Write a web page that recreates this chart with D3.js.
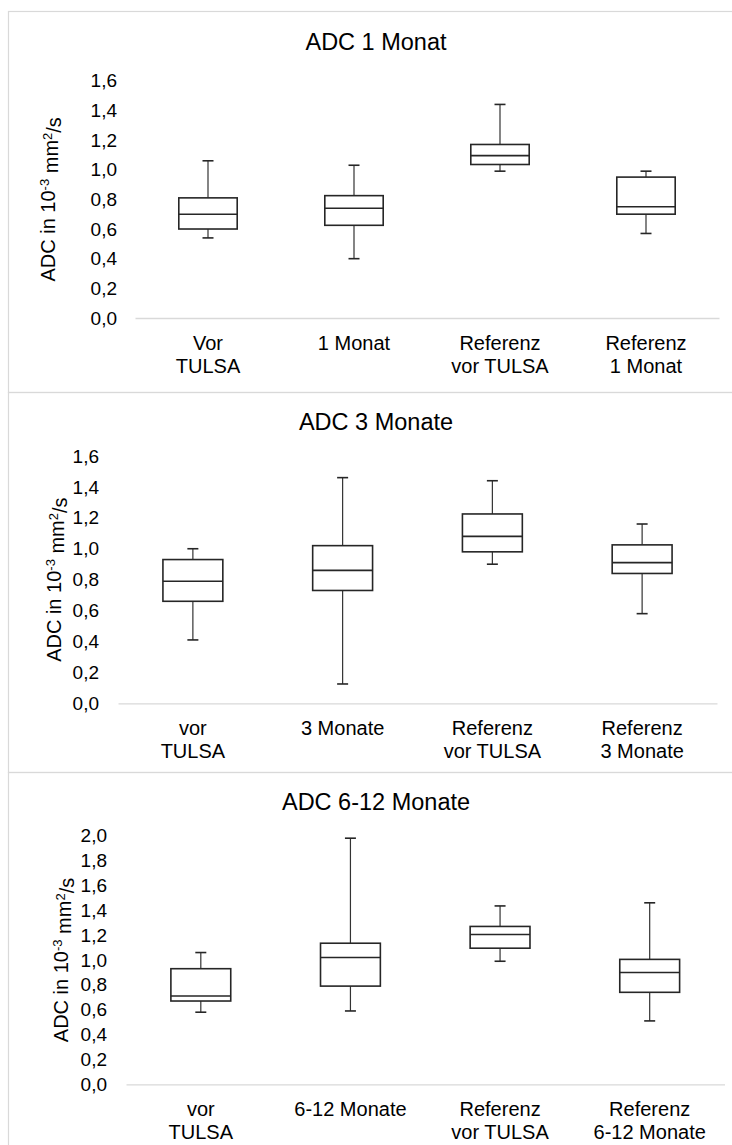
<!DOCTYPE html>
<html>
<head>
<meta charset="utf-8">
<script src="https://cdn.jsdelivr.net/npm/d3@7"></script>
<style>
  html, body { margin: 0; padding: 0; background: #ffffff; }
  svg { display: block; }
  text { font-family: "Liberation Sans", Arial, sans-serif; fill: #000; }
</style>
</head>
<body>
<svg id="chart" width="732" height="1145"></svg>
<script>
// ---------- data ----------
const titles = ["ADC 1 Monat", "ADC 3 Monate", "ADC 6-12 Monate"];

const categories1 = [["Vor", "TULSA"], ["1 Monat"], ["Referenz", "vor TULSA"], ["Referenz", "1 Monat"]];
const categories2 = [["vor", "TULSA"], ["3 Monate"], ["Referenz", "vor TULSA"], ["Referenz", "3 Monate"]];
const categories3 = [["vor", "TULSA"], ["6-12 Monate"], ["Referenz", "vor TULSA"], ["Referenz", "6-12 Monate"]];

const ticks1 = [0, 0.2, 0.4, 0.6, 0.8, 1.0, 1.2, 1.4, 1.6];
const ticks2 = [0, 0.2, 0.4, 0.6, 0.8, 1.0, 1.2, 1.4, 1.6];
const ticks3 = [0, 0.2, 0.4, 0.6, 0.8, 1.0, 1.2, 1.4, 1.6, 1.8, 2.0];

const min1 = [0.54, 0.40, 0.99, 0.57];
const q1_1 = [0.60, 0.625, 1.035, 0.70];
const med1 = [0.70, 0.74, 1.095, 0.75];
const q3_1 = [0.81, 0.825, 1.17, 0.95];
const max1 = [1.06, 1.03, 1.44, 0.99];

const min2 = [0.41, 0.125, 0.90, 0.58];
const q1_2 = [0.66, 0.73, 0.98, 0.84];
const med2 = [0.79, 0.86, 1.08, 0.91];
const q3_2 = [0.93, 1.02, 1.225, 1.025];
const max2 = [1.00, 1.46, 1.44, 1.16];

const min3 = [0.58, 0.59, 0.99, 0.51];
const q1_3 = [0.67, 0.79, 1.095, 0.74];
const med3 = [0.71, 1.02, 1.205, 0.90];
const q3_3 = [0.93, 1.135, 1.27, 1.005];
const max3 = [1.06, 1.98, 1.435, 1.46];

// ---------- layout ----------
const panels = [
  { title: titles[0], cats: categories1, ticks: ticks1, yMax: 1.6,
    mins: min1, q1s: q1_1, meds: med1, q3s: q3_1, maxs: max1,
    top: 11, bottom: 392, titleY: 42, yTop: 80.7, yZero: 318, xL: 135, xR: 719, labelX: 117, ytitleX: 48 },
  { title: titles[1], cats: categories2, ticks: ticks2, yMax: 1.6,
    mins: min2, q1s: q1_2, meds: med2, q3s: q3_2, maxs: max2,
    top: 392, bottom: 772, titleY: 422, yTop: 456, yZero: 703.3, xL: 118, xR: 717, labelX: 99, ytitleX: 54 },
  { title: titles[2], cats: categories3, ticks: ticks3, yMax: 2.0,
    mins: min3, q1s: q1_3, meds: med3, q3s: q3_3, maxs: max3,
    top: 772, bottom: 1160, titleY: 802, yTop: 835.7, yZero: 1084.3, xL: 126, xR: 724.5, labelX: 107, ytitleX: 61 }
];

const svg = d3.select("#chart");
const fmt = v => d3.format(".1f")(v).replace(".", ",");

panels.forEach(p => {
  const g = svg.append("g");

  // chart border (light gray)
  g.append("rect")
    .attr("x", 8.5).attr("y", p.top + 0.5)
    .attr("width", 760).attr("height", p.bottom - p.top)
    .attr("fill", "none").attr("stroke", "#d9d9d9").attr("stroke-width", 1.2);

  const x = d3.scaleBand().domain(d3.range(p.cats.length)).range([p.xL, p.xR]).paddingInner(0).paddingOuter(0);
  const y = d3.scaleLinear().domain([0, p.yMax]).range([p.yZero, p.yTop]);

  // title
  g.append("text")
    .attr("x", 376).attr("y", p.titleY).attr("dy", "0.35em")
    .attr("text-anchor", "middle")
    .style("font-size", "23.5px")
    .text(p.title);

  // y axis labels (no line, no ticks)
  const yAxis = d3.axisLeft(y).tickValues(p.ticks).tickFormat(fmt).tickSize(0).tickPadding(0);
  const ya = g.append("g").attr("transform", `translate(${p.labelX},0)`).call(yAxis);
  ya.select(".domain").remove();
  ya.selectAll("text").style("font-size", "19px").style("font-family", '"Liberation Sans", Arial, sans-serif').attr("fill", "#000");

  // x axis line
  const xAxis = d3.axisBottom(x).tickSize(0).tickFormat(() => "");
  const xa = g.append("g").attr("transform", `translate(0,${p.yZero})`).call(xAxis);
  xa.select(".domain").attr("stroke", "#d9d9d9").attr("stroke-width", 1.3);

  // category labels
  p.cats.forEach((lines, i) => {
    const t = g.append("text")
      .attr("x", x(i) + x.bandwidth() / 2)
      .attr("y", p.yZero + 25)
      .attr("text-anchor", "middle")
      .style("font-size", "20px");
    lines.forEach((ln, j) => {
      t.append("tspan").attr("x", x(i) + x.bandwidth() / 2)
        .attr("dy", j === 0 ? "0.35em" : "1.15em").text(ln);
    });
  });

  // y axis title
  const cy = (p.yTop + p.yZero) / 2;
  const yt = g.append("text")
    .attr("transform", `translate(${p.ytitleX},${cy}) rotate(-90)`)
    .attr("text-anchor", "middle")
    .attr("dy", "0.35em")
    .style("font-size", "20px");
  yt.append("tspan").text("ADC in 10");
  yt.append("tspan").attr("dy", "-0.45em").style("font-size", "13px").text("-3");
  yt.append("tspan").attr("dy", "0.45em").text(" mm");
  yt.append("tspan").attr("dy", "-0.45em").style("font-size", "13px").text("2");
  yt.append("tspan").attr("dy", "0.45em").text("/s");

  // boxes
  const boxW = x.bandwidth() * 0.4;
  const capW = 11;
  d3.range(p.cats.length).forEach(i => {
    const cx = x(i) + x.bandwidth() / 2;
    const bg = g.append("g");
    // whiskers
    bg.append("line").attr("x1", cx).attr("x2", cx)
      .attr("y1", y(p.q3s[i])).attr("y2", y(p.maxs[i]))
      .attr("stroke", "#333").attr("stroke-width", 1.2);
    bg.append("line").attr("x1", cx).attr("x2", cx)
      .attr("y1", y(p.q1s[i])).attr("y2", y(p.mins[i]))
      .attr("stroke", "#333").attr("stroke-width", 1.2);
    // caps
    [p.maxs[i], p.mins[i]].forEach(v => {
      bg.append("line").attr("x1", cx - capW / 2).attr("x2", cx + capW / 2)
        .attr("y1", y(v)).attr("y2", y(v))
        .attr("stroke", "#262626").attr("stroke-width", 1.6);
    });
    // box
    bg.append("rect")
      .attr("x", cx - boxW / 2).attr("y", y(p.q3s[i]))
      .attr("width", boxW).attr("height", y(p.q1s[i]) - y(p.q3s[i]))
      .attr("fill", "#fff").attr("stroke", "#262626").attr("stroke-width", 1.6);
    // median
    bg.append("line").attr("x1", cx - boxW / 2).attr("x2", cx + boxW / 2)
      .attr("y1", y(p.meds[i])).attr("y2", y(p.meds[i]))
      .attr("stroke", "#262626").attr("stroke-width", 1.6);
  });
});
</script>
</body>
</html>
